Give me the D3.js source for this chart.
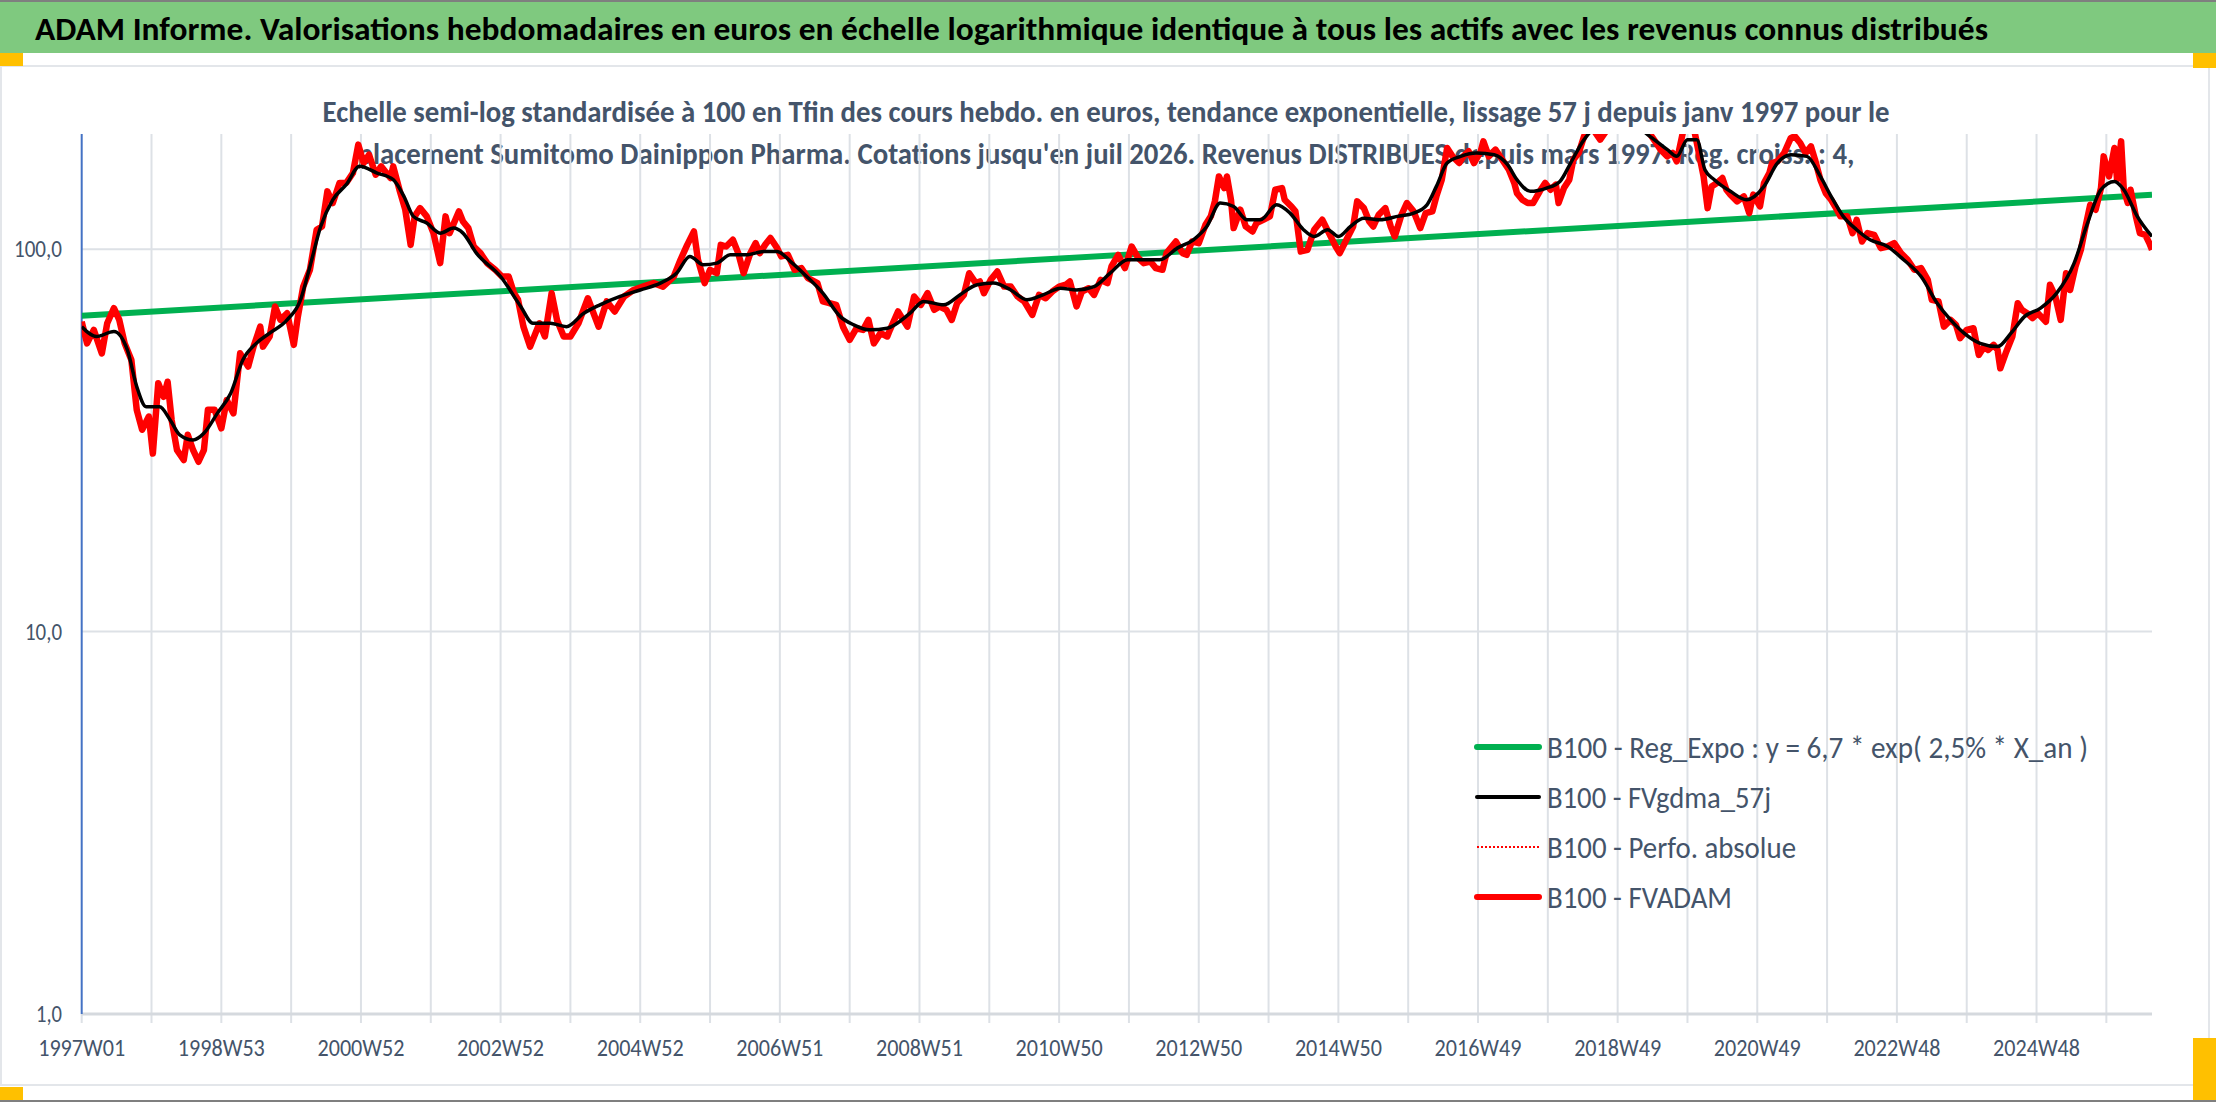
<!DOCTYPE html>
<html>
<head>
<meta charset="utf-8">
<script src="https://cdn.jsdelivr.net/npm/d3@7"></script>
<style>
  html, body { margin: 0; padding: 0; background: #fff; }
  svg { display: block; font-family: Carlito, Lato, "Open Sans", sans-serif; }
</style>
</head>
<body>
<svg id="chart" width="2216" height="1102"></svg>
<script>
/* semi-log weekly valuation chart, base 100 */

const titleText = "ADAM Informe. Valorisations hebdomadaires en euros en échelle logarithmique identique à tous les actifs avec les revenus connus distribués";
const subtitleLines = [
  "Echelle semi-log standardisée à 100 en Tfin des cours hebdo. en euros, tendance exponentielle, lissage 57 j depuis janv 1997 pour le",
  "placement Sumitomo Dainippon Pharma. Cotations jusqu'en juil 2026. Revenus DISTRIBUES depuis mars 1997. Reg. croiss. : 4,"
];

// x = week index since 1997W01
const lastWeek = 1542;
const gridStep = 52;
const tickLabels = ['1997W01', '1998W53', '2000W52', '2002W52', '2004W52', '2006W51', '2008W51',
  '2010W50', '2012W50', '2014W50', '2016W49', '2018W49', '2020W49', '2022W48', '2024W48'];
const yTicks = [1, 10, 100];

// B100 - Reg_Expo (trend, straight on log scale)
const regExpo = [[0, 67.0], [1542, 138.7]];

// B100 - FVADAM [week, value]
const fvadam = [
  [0,64.6],[4,56.7],[9,61.5],[15,53.4],[19,64.0],[24,70.1],[28,65.3],[32,56.7],[37,51.3],[41,38.0],[45,33.7],[50,36.5],
  [53,29.2],[57,44.6],[61,41.1],[64,45.0],[67,35.7],[71,29.8],[76,28.1],[79,32.7],[83,29.8],[87,27.8],[91,29.8],[94,38.0],
  [99,38.0],[104,34.0],[108,40.3],[113,37.2],[118,53.4],[124,49.3],[128,55.6],[133,62.7],[135,55.6],[140,59.1],[144,70.8],
  [148,65.3],[153,68.0],[158,56.2],[161,66.6],[165,79.8],[170,88.3],[175,112.4],[179,114.6],[183,141.6],[187,132.0],
  [192,148.9],[197,148.9],[202,158.1],[206,187.6],[210,167.9],[214,176.6],[219,156.5],[223,164.6],[230,153.4],[232,164.6],
  [237,141.6],[241,126.8],[245,102.6],[248,121.8],[252,128.0],[257,121.8],[262,110.1],[267,91.9],[271,121.8],[274,110.1],
  [281,125.5],[284,118.1],[288,113.5],[292,101.6],[297,97.6],
  [302,91.9],[308,88.3],[313,84.8],[318,84.8],[322,76.7],[325,73.7],[329,62.7],[334,55.6],[338,60.3],[341,64.0],[345,59.1],
  [350,76.7],[354,65.3],[359,59.1],[364,59.1],[370,64.0],[377,74.4],[385,62.7],[391,73.0],[397,68.7],[404,75.2],[411,78.2],
  [418,79.8],[426,81.5],[433,79.8],[441,84.8],[446,93.8],[451,102.6],[456,111.2],[459,93.8],[464,81.5],[468,88.3],[473,86.5],
  [476,102.6],[480,101.6],[485,105.8],[489,97.6],[493,86.5],[498,97.6],[502,103.7],[505,97.6],[509,102.6],[513,106.9],
  [518,100.6],[521,95.7],[526,96.6],[531,88.3],[536,89.2],[541,84.0],[548,81.5],[552,73.0],[557,72.2],[562,71.5],[567,62.7],
  [572,57.9],[577,62.1],[582,61.5],[586,65.3],[590,56.7],[595,60.3],[600,59.1],
  [602,61.5],[608,68.7],[615,62.7],[620,75.2],[625,71.5],[630,76.7],[635,69.4],[639,70.8],[644,69.4],[648,65.3],[652,72.2],
  [657,75.9],[661,86.5],[666,81.5],[669,82.3],[672,76.7],[677,83.1],[682,87.4],[687,79.8],[692,79.8],[697,75.2],[702,73.0],
  [708,67.3],[713,75.9],[718,74.4],[723,77.5],[728,79.8],[733,80.7],[736,82.3],[741,70.8],[745,77.5],[750,79.0],[754,75.9],
  [759,83.1],[764,81.5],[767,90.1],[772,96.6],[777,89.2],[782,101.6],[787,94.7],[791,91.9],[796,92.8],[800,89.2],[805,88.3],
  [808,97.6],[815,104.7],[820,97.6],[823,96.6],[827,104.7],[832,103.7],[837,115.8],[841,121.8],[844,133.3],[847,154.9],
  [851,144.4],[853,154.9],[856,134.6],[858,113.5],[863,126.8],[867,114.6],[872,111.2],[875,117.0],[880,119.3],[885,121.8],
  [889,143.0],[894,144.4],[896,134.6],[901,129.3],[904,125.5],
  [908,98.6],[913,99.6],[918,112.4],[924,119.3],[929,110.1],[934,101.6],[937,97.6],[942,105.8],[947,114.6],[950,133.3],
  [955,128.0],[959,118.1],[962,114.6],[966,123.0],[971,128.0],[975,114.6],[978,107.9],[983,123.0],[987,132.0],[992,125.5],
  [997,113.5],[1001,124.2],[1006,125.5],[1009,137.4],[1013,151.9],[1017,183.8],[1021,174.8],[1026,167.9],[1029,174.8],
  [1033,180.2],[1037,167.9],[1042,180.2],[1044,191.3],[1048,174.8],[1053,182.0],[1058,171.4],[1063,161.3],[1067,148.9],
  [1069,140.1],[1073,134.6],[1077,132.0],[1081,132.0],[1086,141.6],[1090,148.9],[1094,143.0],[1098,147.4],[1100,132.0],
  [1104,144.4],[1108,151.9],[1111,171.4],[1115,178.4],[1119,197.2],[1121,205],[1126,205],[1131,193.3],[1136,205],
  [1146,210],[1156,210],[1166,205],[1171,193.3],[1176,182.0],[1181,174.8],[1185,178.4],[1188,169.6],[1193,205],[1201,205],
  [1204,182.0],[1208,154.9],[1211,128.0],[1214,145.9],[1218,148.9],[1222,153.4],[1225,143.0],
  [1228,138.8],[1233,133.3],[1238,137.4],[1242,124.2],[1245,138.8],[1250,129.3],[1253,148.9],[1257,158.1],[1259,167.9],
  [1263,169.6],[1268,178.4],[1273,195.3],[1276,197.2],[1280,189.5],[1284,178.4],[1288,185.7],[1291,171.4],[1295,151.9],
  [1299,140.1],[1303,134.6],[1306,129.3],[1310,121.8],[1315,121.8],[1319,110.1],[1322,119.3],[1326,104.7],[1330,110.1],
  [1335,109.0],[1340,100.6],[1345,101.6],[1350,103.7],[1355,97.6],[1360,93.8],[1365,88.3],[1370,89.2],[1375,83.1],
  [1378,73.7],[1383,73.0],[1387,62.7],[1392,65.3],[1396,63.4],[1399,58.5],[1404,61.5],[1409,62.1],[1413,52.9],[1417,55.6],
  [1420,54.5],[1424,56.2],[1427,54.5],[1429,48.8],[1433,53.4],[1438,59.1],[1442,72.2],[1445,69.4],[1449,68.0],[1453,66.0],
  [1457,68.0],[1463,64.6],[1466,80.7],[1470,75.2],[1474,65.3],[1478,86.5],[1481,78.2],[1485,90.1],[1489,99.6],[1492,112.4],
  [1496,130.6],[1500,126.8],[1504,144.4],[1506,174.8],[1510,154.9],[1514,183.8],[1516,151.9],[1519,191.3],[1521,143.0],
  [1524,132.0],[1526,143.0],[1530,121.8],[1533,110.1],[1537,109.0],[1540,103.7],[1542,99.6]
];

// B100 - FVgdma_57j (smoothed) [week, value]
const fvgdma = [
  [0,62.7],[11,59.1],[24,60.9],[34,54.5],[41,43.7],[48,38.7],[58,38.7],[66,35.7],[73,32.7],[83,31.7],[91,33.0],[101,37.2],
  [111,42.0],[120,51.3],[130,56.7],[140,60.3],[153,65.3],[163,73.7],[170,90.1],[178,114.6],[187,134.6],[197,147.4],
  [207,164.6],[220,158.1],[232,151.9],[240,137.4],[247,121.8],[257,117.0],[267,110.1],[277,113.5],[284,110.1],[294,97.6],
  [312,84.8],[327,70.8],[336,64.0],[349,64.0],[361,62.7],[374,68.0],[386,71.5],[401,75.2],[416,78.2],[431,81.5],[443,86.5],
  [453,95.7],[463,91.0],[473,91.9],[483,96.6],[495,96.6],[508,98.6],[518,98.6],[528,92.8],[540,84.8],[552,76.7],[565,66.6],
  [575,63.4],[587,61.5],[600,62.1],[617,68.0],[627,73.0],[642,71.5],[654,75.9],[667,80.7],[679,81.5],[692,78.2],[704,73.7],
  [716,75.9],[729,79.0],[741,78.2],[754,79.8],[766,86.5],[779,93.8],[791,93.8],[803,93.8],[816,100.6],[828,105.8],
  [838,114.6],[848,132.0],[858,129.3],[868,119.3],[878,119.3],[890,130.6],[900,124.2],[910,112.4],[918,107.9],[928,112.4],
  [936,107.9],[945,114.6],[955,120.5],[967,119.3],[980,121.8],[992,124.2],[1002,130.6],[1009,145.9],[1017,167.9],
  [1027,174.8],[1039,178.4],[1052,176.6],[1062,166.3],[1069,151.9],[1079,141.6],[1091,144.4],[1101,150.3],[1109,167.9],
  [1119,193.3],[1126,205],[1156,210],[1168,197.2],[1181,182.0],[1188,174.8],[1196,193.3],[1203,193.3],[1209,161.3],
  [1216,151.9],[1228,141.6],[1240,134.6],[1253,145.9],[1263,167.9],[1273,176.6],[1285,174.8],[1295,154.9],[1303,137.4],
  [1312,121.8],[1322,112.4],[1332,105.8],[1345,101.6],[1357,93.8],[1370,84.8],[1382,72.2],[1392,65.3],[1402,60.3],
  [1414,56.7],[1427,55.6],[1437,60.3],[1447,66.6],[1459,70.1],[1471,76.7],[1484,91.9],[1494,117.0],[1504,143.0],
  [1514,150.3],[1521,143.0],[1531,121.8],[1542,107.9]
];

const legendItems = [
  { label: 'B100 - Reg_Expo : y = 6,7 * exp( 2,5% *  X_an )', color: '#00B050', width: 6, dash: null, tl: 541 },
  { label: 'B100 - FVgdma_57j', color: '#000000', width: 4, dash: null, tl: 224 },
  { label: 'B100 - Perfo. absolue', color: '#FF0000', width: 2, dash: '2,2', tl: 249 },
  { label: 'B100 - FVADAM', color: '#FF0000', width: 6, dash: null, tl: 185 }
];

(function () {
  const svg = d3.select('#chart');
  const W = 2216, H = 1102;
  const plot = { left: 81.7, right: 2152, top: 134, bottom: 1014 };
  const txtCol = '#44546A';

  const x = d3.scaleLinear().domain([0, lastWeek]).range([plot.left, plot.right]);
  const y = d3.scaleLog().domain([1, 200]).range([plot.bottom, plot.top]);

  const fit = (sel, w) => sel.attr('textLength', w).attr('lengthAdjust', 'spacingAndGlyphs');

  // ─── frame ───
  svg.append('rect').attr('x', 0).attr('y', 0).attr('width', W).attr('height', H).attr('fill', '#fff');
  svg.append('rect').attr('x', 0).attr('y', 0).attr('width', W).attr('height', 2).attr('fill', '#7f7f7f');
  svg.append('rect').attr('x', 0).attr('y', 2).attr('width', W).attr('height', 51).attr('fill', '#7FC97F');
  svg.append('rect').attr('x', 0).attr('y', H - 2).attr('width', W).attr('height', 2).attr('fill', '#7f7f7f');
  svg.append('rect').attr('x', 1).attr('y', 66).attr('width', 2208).attr('height', 1019)
    .attr('fill', 'none').attr('stroke', '#E3E6EA').attr('stroke-width', 2);
  [[0, 53, 23, 13], [0, 1087, 23, 13], [2193, 53, 23, 15], [2193, 1038, 23, 62]].forEach(r => {
    svg.append('rect').attr('x', r[0]).attr('y', r[1]).attr('width', r[2]).attr('height', r[3]).attr('fill', '#FFC000');
  });

  fit(svg.append('text').attr('x', 35).attr('y', 40)
    .attr('font-size', 33).attr('font-weight', 700).attr('fill', '#000')
    .text(titleText), 1953);

  const subW = [1567, 1497];
  subtitleLines.forEach((s, i) => {
    fit(svg.append('text').attr('x', 1106).attr('y', 122 + i * 42)
      .attr('text-anchor', 'middle').attr('font-size', 31).attr('font-weight', 700)
      .attr('fill', txtCol).text(s), subW[i]);
  });

  // ─── grid ───
  const grid = svg.append('g');
  const gridWeeks = d3.range(gridStep, lastWeek, gridStep);
  grid.selectAll('line.v').data(gridWeeks).enter().append('line')
    .attr('x1', d => x(d)).attr('x2', d => x(d))
    .attr('y1', plot.top).attr('y2', plot.bottom + 9)
    .attr('stroke', '#DDE1E6').attr('stroke-width', 2);
  grid.append('line').attr('x1', x(0)).attr('x2', x(0)).attr('y1', plot.bottom).attr('y2', plot.bottom + 9)
    .attr('stroke', '#DDE1E6').attr('stroke-width', 2);
  grid.selectAll('line.h').data(yTicks).enter().append('line')
    .attr('x1', plot.left).attr('x2', plot.right)
    .attr('y1', d => y(d)).attr('y2', d => y(d))
    .attr('stroke', d => d === 1 ? '#D5D9DE' : '#DDE1E6').attr('stroke-width', d => d === 1 ? 3 : 2);
  svg.append('line').attr('x1', plot.left).attr('x2', plot.left).attr('y1', plot.top).attr('y2', plot.bottom)
    .attr('stroke', '#4472C4').attr('stroke-width', 2);

  // ─── axis labels ───
  const yLabW = { 1: 26, 10: 37, 100: 48 };
  svg.selectAll('text.ylab').data(yTicks).enter().append('text')
    .attr('x', 62).attr('y', d => y(d) + 8).attr('text-anchor', 'end')
    .attr('font-size', 24).attr('fill', txtCol)
    .attr('textLength', d => yLabW[d]).attr('lengthAdjust', 'spacingAndGlyphs')
    .text(d => d3.format('.1f')(d).replace('.', ','));

  fit(svg.selectAll('text.xlab').data(tickLabels).enter().append('text')
    .attr('x', (d, i) => x(i * gridStep * 2)).attr('y', 1056).attr('text-anchor', 'middle')
    .attr('font-size', 25).attr('fill', txtCol)
    .text(d => d), 87);

  // ─── series ───
  svg.append('clipPath').attr('id', 'clip').append('rect')
    .attr('x', plot.left).attr('y', plot.top).attr('width', plot.right - plot.left).attr('height', plot.bottom - plot.top);
  const series = svg.append('g').attr('clip-path', 'url(#clip)');
  const line = d3.line().x(d => x(d[0])).y(d => y(d[1]));

  series.append('path').datum(regExpo).attr('d', line)
    .attr('fill', 'none').attr('stroke', '#00B050').attr('stroke-width', 6);
  series.append('path').datum(fvadam).attr('d', line)
    .attr('fill', 'none').attr('stroke', '#FF0000').attr('stroke-width', 6.5).attr('stroke-linejoin', 'round');
  series.append('path').datum(fvadam).attr('d', line)
    .attr('fill', 'none').attr('stroke', '#FF0000').attr('stroke-width', 1.5).attr('stroke-dasharray', '2,2');
  series.append('path').datum(fvgdma).attr('d', d3.line().x(d => x(d[0])).y(d => y(d[1])).curve(d3.curveMonotoneX))
    .attr('fill', 'none').attr('stroke', '#000').attr('stroke-width', 3.5).attr('stroke-linejoin', 'round');

  // ─── legend ───
  const leg = svg.append('g').attr('transform', 'translate(1477, 747)');
  legendItems.forEach((it, i) => {
    const g = leg.append('g').attr('transform', `translate(0, ${i * 50})`);
    g.append('line').attr('x1', 0).attr('x2', 62).attr('y1', 0).attr('y2', 0)
      .attr('stroke', it.color).attr('stroke-width', it.width)
      .attr('stroke-dasharray', it.dash).attr('stroke-linecap', it.dash ? 'butt' : 'round');
    fit(g.append('text').attr('x', 70).attr('y', 11)
      .attr('font-size', 30).attr('fill', txtCol).text(it.label), it.tl);
  });
})();
</script>
</body>
</html>
